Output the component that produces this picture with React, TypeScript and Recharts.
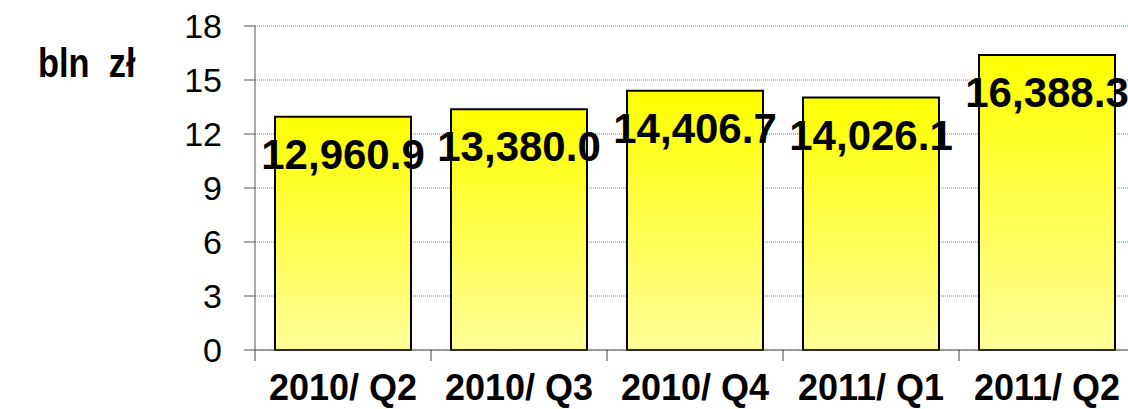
import { BarChart, Bar, XAxis, YAxis, CartesianGrid, LabelList } from 'recharts';

// quarters on the x axis
const quarters = ['2010/ Q2', '2010/ Q3', '2010/ Q4', '2011/ Q1', '2011/ Q2'];

// values in mln zł (axis shows bln zł)
const values = [12960.9, 13380.0, 14406.7, 14026.1, 16388.3];

const yTicks = [0, 3, 6, 9, 12, 15, 18];

const unitLabel = 'bln  zł';

const chartData = quarters.map((q, i) => ({
  name: q,
  bln: values[i] / 1000,
}));

const fmt = (v: number) =>
  v.toLocaleString('en-US', { minimumFractionDigits: 1, maximumFractionDigits: 1 });

function QuarterTick(props: any) {
  const { x, y, payload } = props;
  const half = 88; // half of category band
  return (
    <g>
      <line x1={x - half} y1={y} x2={x - half} y2={y + 11} stroke="#444" strokeWidth={1} />
      <text
        x={x}
        y={y + 50}
        textAnchor="middle"
        fill="#000"
        fontSize={36}
        fontWeight="bold"
        fontFamily="'Liberation Sans', Arial, sans-serif"
      >
        {payload.value}
      </text>
    </g>
  );
}

function ValueLabel(props: any) {
  const { x, y, width, index } = props;
  return (
    <text
      x={x + width / 2}
      y={y + 52}
      textAnchor="middle"
      fill="#000"
      fontSize={42}
      fontWeight="bold"
      fontFamily="'Liberation Sans', Arial, sans-serif"
    >
      {fmt(values[index])}
    </text>
  );
}

export default function App() {
  return (
    <div
      style={{
        position: 'absolute',
        left: 0,
        top: 0,
        width: 1128,
        height: 409,
        overflow: 'hidden',
        background: '#fff',
      }}
    >
      <div
        style={{
          position: 'absolute',
          left: 38,
          top: 43,
          fontFamily: "'Liberation Sans', Arial, sans-serif",
          fontWeight: 'bold',
          fontSize: 40,
          whiteSpace: 'pre',
          color: '#000',
          lineHeight: 1,
          transform: 'scaleX(0.86)',
          transformOrigin: 'left top',
        }}
      >
        {unitLabel}
      </div>
      <BarChart
        width={1140}
        height={409}
        data={chartData}
        margin={{ top: 26, right: 5, left: 0, bottom: 0 }}
        barCategoryGap={20}
        style={{ position: 'absolute', left: 0, top: 0 }}
      >
        <defs>
          <linearGradient id="barFill" x1="0" y1="0" x2="0" y2="1">
            <stop offset="0%" stopColor="#ffff00" />
            <stop offset="100%" stopColor="#ffff99" />
          </linearGradient>
        </defs>
        <CartesianGrid
          horizontal={true}
          vertical={false}
          stroke="#3fa53f"
          strokeDasharray="1 1"
        />
        <XAxis
          dataKey="name"
          height={59}
          axisLine={{ stroke: '#555', strokeWidth: 1 }}
          tickLine={false}
          tickSize={0}
          tickMargin={0}
          interval={0}
          tick={<QuarterTick />}
        />
        <YAxis
          width={255}
          domain={[0, 18]}
          ticks={yTicks}
          interval={0}
          axisLine={{ stroke: '#555', strokeWidth: 1 }}
          tickLine={{ stroke: '#555', strokeWidth: 1 }}
          tickSize={11}
          tickMargin={22}
          tick={{
            fill: '#000',
            fontSize: 34,
            fontFamily: "'Liberation Sans', Arial, sans-serif",
          }}
        />
        <Bar
          dataKey="bln"
          fill="url(#barFill)"
          stroke="#000"
          strokeWidth={2}
          isAnimationActive={false}
        >
          <LabelList dataKey="bln" content={<ValueLabel />} />
        </Bar>
      </BarChart>
    </div>
  );
}
